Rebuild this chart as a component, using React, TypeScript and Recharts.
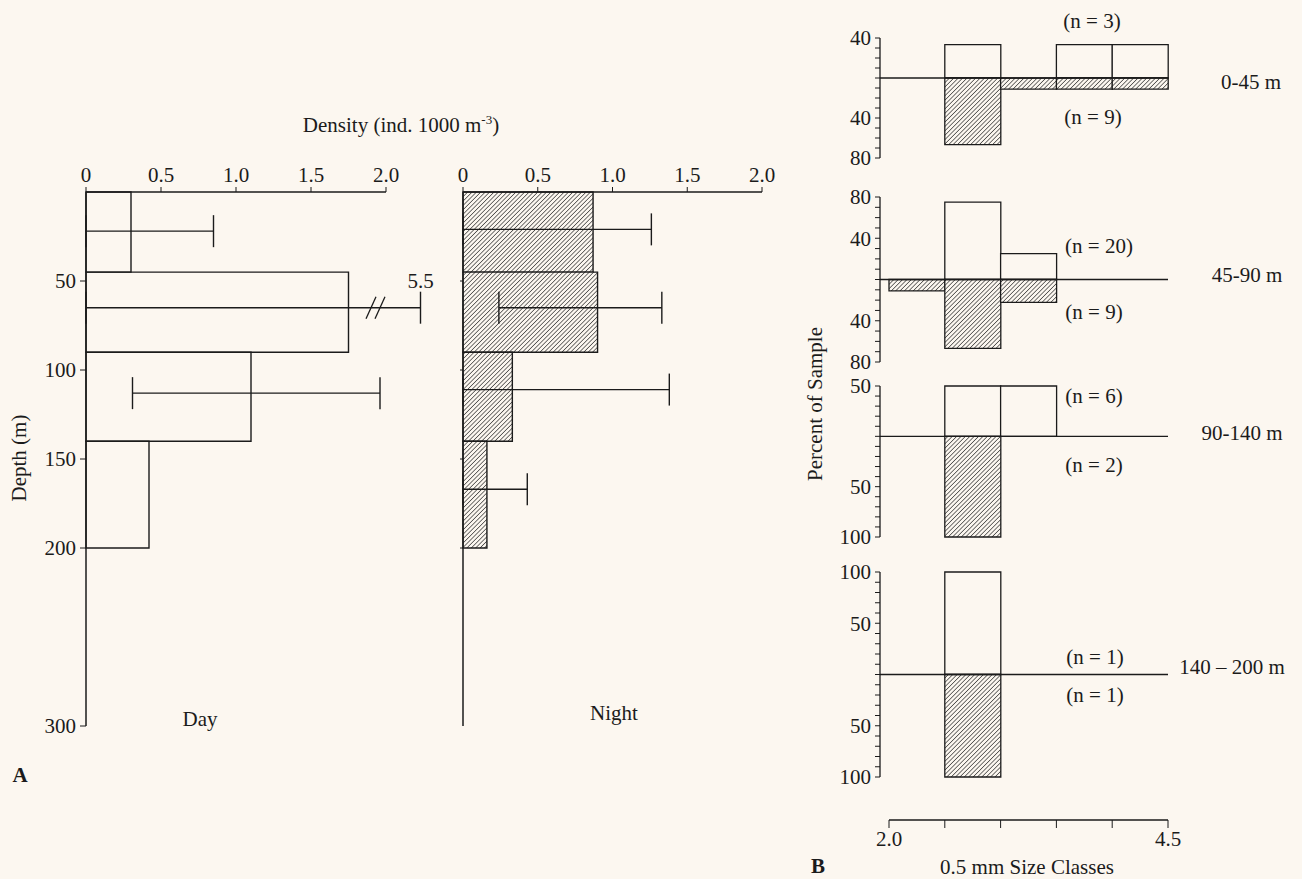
import React from 'react'
import {
  ComposedChart,
  BarChart,
  Bar,
  Line,
  Scatter,
  ErrorBar,
  XAxis,
  YAxis,
  ReferenceArea,
  ReferenceLine,
  ReferenceDot
} from 'recharts'

const FONT = '"Liberation Serif", "Times New Roman", serif'
const BG = '#fcf7f0'
const INK = '#1b1b1b'
const FS = 21

// ---- Panel A: vertical distribution, day vs night ----
const strataTop = [0, 45, 90, 140]
const strataBottom = [45, 90, 140, 200]
const dayDensity = [0.3, 1.75, 1.1, 0.42]
const nightDensity = [0.87, 0.9, 0.33, 0.16]

// confidence limits of each stratum (null = none drawn)
const dayLower = [0, 0, 0.31, null]
const dayUpper = [0.85, 5.5, 1.96, null]
const dayErrDepth = [22, 65, 113, null]
const nightLower = [0, 0.24, 0, 0]
const nightUpper = [1.26, 1.33, 1.38, 0.43]
const nightErrDepth = [21, 65, 111, 167]

const densityTicks = [0, 0.5, 1.0, 1.5, 2.0]
const depthTicks = [50, 100, 150, 200, 300]
const dayBreakAt = 2.23 // where the 5.5 upper limit is cut off on the page
const dayBreakMark = 1.94

// ---- Panel B: size frequency per stratum (percent of sample) ----
const sizeClasses = ['2.0-2.5', '2.5-3.0', '3.0-3.5', '3.5-4.0', '4.0-4.5']
const sizeEdges = [2.0, 2.5, 3.0, 3.5, 4.0, 4.5]
const stratumNames = ['0-45 m', '45-90 m', '90-140 m', '140 – 200 m']
const dayN = [3, 20, 6, 1]
const nightN = [9, 9, 2, 1]
const dayPct = [
  [0, 33.3, 0, 33.3, 33.3],
  [0, 75, 25, 0, 0],
  [0, 50, 50, 0, 0],
  [0, 100, 0, 0, 0]
]
const nightPct = [
  [0, 66.7, 11.1, 11.1, 11.1],
  [11.1, 66.7, 22.2, 0, 0],
  [0, 100, 0, 0, 0],
  [0, 100, 0, 0, 0]
]
const panelMax = [40, 80, 50, 100]
const panelMin = [-80, -80, -100, -100]
const panelLabelled = [
  [40, -40, -80],
  [80, 40, -40, -80],
  [50, -50, -100],
  [100, 50, -50, -100]
]

// page layout of the four B panels (pixels)
const bPanels = [
  { top: 38, bottom: 158, nOpen: [1092, 21], nHatch: [1093, 117], name: [1251, 82] },
  { top: 197, bottom: 362, nOpen: [1099, 246], nHatch: [1094, 312], name: [1247, 275] },
  { top: 386, bottom: 537, nOpen: [1094, 396], nHatch: [1094, 465], name: [1242, 433] },
  { top: 572, bottom: 777, nOpen: [1095, 657], nHatch: [1095, 695], name: [1232, 667] }
]

const tickStyle = { fill: INK, fontFamily: FONT, fontSize: FS }

function Hatch({ id }: { id: string }) {
  return (
    <defs>
      <pattern id={id} patternUnits="userSpaceOnUse" width={3.1} height={3.1} patternTransform="rotate(45)">
        <rect width={3.1} height={3.1} fill={BG} />
        <line x1={0} y1={0} x2={0} y2={3.1} stroke={INK} strokeWidth={1.2} />
      </pattern>
    </defs>
  )
}

function Txt({ x, y, children, rotate, bold, size = FS }: any) {
  return (
    <div
      style={{
        position: 'absolute',
        left: x,
        top: y,
        transform: `translate(-50%, -50%)${rotate ? ` rotate(${rotate}deg)` : ''}`,
        whiteSpace: 'nowrap',
        fontFamily: FONT,
        fontSize: size,
        fontWeight: bold ? 700 : 400,
        color: INK,
        lineHeight: 1
      }}
    >
      {children}
    </div>
  )
}

const noDot = () => <g />

function errRows(mean: number[], lower: (number | null)[], upper: (number | null)[], depth: (number | null)[], cap = Infinity) {
  const rows: any[] = []
  mean.forEach((m, i) => {
    const lo = lower[i]
    const hi = upper[i]
    const d = depth[i]
    if (lo === null || hi === null || d === null) return
    rows.push({ x: m, depth: d, err: [m - lo, Math.min(hi, cap) - m] })
  })
  return rows
}

function BreakMark(props: any) {
  const { cx, cy } = props
  return (
    <g stroke={INK} strokeWidth={1.3}>
      <line x1={cx - 11} y1={cy + 11} x2={cx - 1} y2={cy - 11} />
      <line x1={cx - 2} y1={cy + 11} x2={cx + 8} y2={cy - 11} />
    </g>
  )
}

function DayChart() {
  const errs = errRows(dayDensity, dayLower, dayUpper, dayErrDepth, dayBreakAt)
  return (
    <div style={{ position: 'absolute', left: 0, top: 0 }}>
      <ComposedChart width={460} height={760} margin={{ top: 162, right: 29, bottom: 34, left: 26 }}>
        <XAxis
          type="number"
          dataKey="x"
          orientation="top"
          domain={[0, 2.3]}
          ticks={densityTicks}
          tickFormatter={(v: number) => (v === 0 ? '0' : v.toFixed(1))}
          axisLine={false}
          tickLine={{ stroke: INK }}
          tickSize={5}
          tickMargin={5}
          height={30}
          tick={tickStyle}
        />
        <YAxis
          type="number"
          dataKey="depth"
          reversed
          domain={[0, 300]}
          ticks={depthTicks}
          axisLine={{ stroke: INK, strokeWidth: 1.5 }}
          tickLine={{ stroke: INK }}
          tickSize={6}
          tickMargin={4}
          width={60}
          tick={tickStyle}
        />
        <ReferenceLine segment={[{ x: 0, y: 0 }, { x: 2, y: 0 }]} stroke={INK} strokeWidth={1.3} />
        {dayDensity.map((v, i) => (
          <ReferenceArea
            key={i}
            x1={0}
            x2={v}
            y1={strataTop[i]}
            y2={strataBottom[i]}
            fill="none"
            fillOpacity={1}
            stroke={INK}
            strokeWidth={1.4}
          />
        ))}
        <Scatter data={errs} shape={noDot} isAnimationActive={false}>
          <ErrorBar dataKey="err" direction="x" width={16} stroke={INK} strokeWidth={1.4} isAnimationActive={false} />
        </Scatter>
        <ReferenceDot x={dayBreakMark} y={dayErrDepth[1] as number} shape={BreakMark} />
        <ReferenceDot
          x={dayBreakAt}
          y={dayErrDepth[1] as number}
          r={0}
          fill="none"
          stroke="none"
          label={{ value: String(dayUpper[1]), position: 'top', offset: 20, fill: INK, fontFamily: FONT, fontSize: FS }}
        />
      </ComposedChart>
    </div>
  )
}

function NightChart() {
  const errs = errRows(nightDensity, nightLower, nightUpper, nightErrDepth)
  return (
    <div style={{ position: 'absolute', left: 440, top: 0 }}>
      <ComposedChart width={340} height={760} margin={{ top: 162, right: 18, bottom: 34, left: 13 }}>
        <Hatch id="hatchNight" />
        <XAxis
          type="number"
          dataKey="x"
          orientation="top"
          domain={[0, 2]}
          ticks={densityTicks}
          tickFormatter={(v: number) => (v === 0 ? '0' : v.toFixed(1))}
          axisLine={{ stroke: INK, strokeWidth: 1.3 }}
          tickLine={{ stroke: INK }}
          tickSize={5}
          tickMargin={5}
          height={30}
          tick={tickStyle}
        />
        <YAxis
          type="number"
          dataKey="depth"
          reversed
          domain={[0, 300]}
          ticks={depthTicks.slice(0, 4)}
          tickFormatter={() => ''}
          axisLine={{ stroke: INK, strokeWidth: 1.5 }}
          tickLine={{ stroke: INK }}
          tickSize={3}
          width={10}
          tick={tickStyle}
        />
        {nightDensity.map((v, i) => (
          <ReferenceArea
            key={i}
            x1={0}
            x2={v}
            y1={strataTop[i]}
            y2={strataBottom[i]}
            fill="url(#hatchNight)"
            fillOpacity={1}
            stroke={INK}
            strokeWidth={1.4}
          />
        ))}
        <Scatter data={errs} shape={noDot} isAnimationActive={false}>
          <ErrorBar dataKey="err" direction="x" width={16} stroke={INK} strokeWidth={1.4} isAnimationActive={false} />
        </Scatter>
      </ComposedChart>
    </div>
  )
}

function SizePanel({ idx }: { idx: number }) {
  const lay = bPanels[idx]
  const rows = sizeClasses.map((s, i) => ({
    size: s,
    open: dayPct[idx][i],
    hatched: -nightPct[idx][i]
  }))
  const ticks: number[] = []
  for (let t = panelMin[idx]; t <= panelMax[idx]; t += 10) ticks.push(t)
  const labelled = panelLabelled[idx]
  const left = 830
  const width = 343
  const pad = 12
  return (
    <div style={{ position: 'absolute', left, top: lay.top - pad }}>
      <BarChart
        width={width}
        height={lay.bottom - lay.top + 2 * pad}
        data={rows}
        margin={{ top: pad, right: left + width - 1168, bottom: pad, left: 2 }}
        barCategoryGap={0}
        barGap={0}
        stackOffset="sign"
      >
        <Hatch id={`hatchB${idx}`} />
        <XAxis dataKey="size" hide padding={{ left: 9, right: 0 }} />
        <YAxis
          type="number"
          domain={[panelMin[idx], panelMax[idx]]}
          ticks={ticks}
          interval={0}
          tickFormatter={(v: number) => (labelled.includes(v) ? String(Math.abs(v)) : '')}
          axisLine={{ stroke: INK, strokeWidth: 1.3 }}
          tickLine={{ stroke: INK }}
          tickSize={5}
          tickMargin={4}
          width={48}
          tick={tickStyle}
        />
        <Bar dataKey="open" stackId="s" fill={BG} stroke={INK} strokeWidth={1.3} isAnimationActive={false} />
        <Bar dataKey="hatched" stackId="s" fill={`url(#hatchB${idx})`} stroke={INK} strokeWidth={1.3} isAnimationActive={false} />
        <ReferenceLine y={0} stroke={INK} strokeWidth={1.3} />
      </BarChart>
    </div>
  )
}

function SizeAxis() {
  const rows = sizeEdges.map((mm) => ({ mm, y: 0 }))
  return (
    <div style={{ position: 'absolute', left: 850, top: 790 }}>
      <ComposedChart width={360} height={70} data={rows} margin={{ top: 0, right: 42, bottom: 0, left: 39 }}>
        <XAxis
          type="number"
          dataKey="mm"
          domain={[2, 4.5]}
          ticks={sizeEdges}
          interval={0}
          tickFormatter={(v: number) => (v === sizeEdges[0] || v === sizeEdges[sizeEdges.length - 1] ? v.toFixed(1) : '')}
          axisLine={{ stroke: INK, strokeWidth: 1.3 }}
          tickLine={{ stroke: INK }}
          tickSize={8}
          tickMargin={3}
          height={40}
          tick={tickStyle}
        />
        <YAxis hide domain={[0, 1]} />
        <Line dataKey="y" stroke="none" dot={false} isAnimationActive={false} />
      </ComposedChart>
    </div>
  )
}

export default function App() {
  return (
    <div style={{ position: 'absolute', left: 0, top: 0, width: 1302, height: 879, background: BG, overflow: 'hidden' }}>
      <DayChart />
      <NightChart />
      {bPanels.map((_, i) => (
        <SizePanel key={i} idx={i} />
      ))}
      <SizeAxis />

      <Txt x={401} y={124}>
        Density (ind. 1000 m<sup style={{ fontSize: 13 }}>-3</sup>)
      </Txt>
      <Txt x={19} y={458} rotate={-90}>Depth (m)</Txt>
      <Txt x={200} y={719}>Day</Txt>
      <Txt x={614} y={713}>Night</Txt>
      <Txt x={20} y={775} bold>A</Txt>

      <Txt x={815} y={404} rotate={-90}>Percent of Sample</Txt>
      {bPanels.map((p, i) => (
        <React.Fragment key={i}>
          <Txt x={p.nOpen[0]} y={p.nOpen[1]}>(n = {dayN[i]})</Txt>
          <Txt x={p.nHatch[0]} y={p.nHatch[1]}>(n = {nightN[i]})</Txt>
          <Txt x={p.name[0]} y={p.name[1]}>{stratumNames[i]}</Txt>
        </React.Fragment>
      ))}
      <Txt x={1027} y={867}>0.5 mm Size Classes</Txt>
      <Txt x={818} y={866} bold>B</Txt>
    </div>
  )
}
